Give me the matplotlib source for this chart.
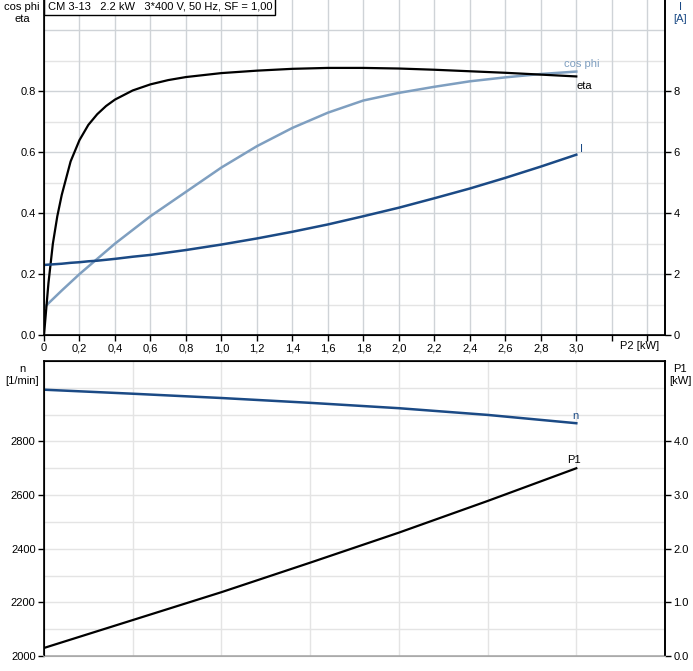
import numpy as np
import matplotlib
matplotlib.use("Agg")
import matplotlib.pyplot as plt

plt.rcParams["font.family"] = ["Liberation Sans", "DejaVu Sans"]

# P2 [kW] sample points
p2 = [0.0, 0.025, 0.05, 0.075, 0.1, 0.15, 0.2, 0.25, 0.3, 0.35, 0.4, 0.5, 0.6,
      0.7, 0.8, 1.0, 1.2, 1.4, 1.6, 1.8, 2.0, 2.2, 2.4, 2.6, 2.8, 3.0]
eta = [0.0, 0.17, 0.30, 0.39, 0.46, 0.57, 0.64, 0.69, 0.725, 0.752, 0.773, 0.803,
       0.823, 0.837, 0.847, 0.860, 0.868, 0.874, 0.877, 0.877, 0.875, 0.871,
       0.866, 0.861, 0.855, 0.849]
cosphi = [0.09, 0.104, 0.118, 0.132, 0.146, 0.173, 0.20, 0.225, 0.25, 0.275, 0.30,
          0.345, 0.39, 0.43, 0.47, 0.55, 0.62, 0.68, 0.73, 0.77, 0.795, 0.815,
          0.833, 0.846, 0.857, 0.865]
current = [2.30, 2.31, 2.32, 2.33, 2.34, 2.37, 2.39, 2.42, 2.44, 2.47, 2.50, 2.57,
           2.63, 2.71, 2.79, 2.97, 3.17, 3.39, 3.63, 3.90, 4.18, 4.49, 4.81, 5.16,
           5.53, 5.92]

p2b = [0.0, 0.5, 1.0, 1.5, 2.0, 2.5, 3.0]
speed = [2993, 2978, 2962, 2944, 2924, 2899, 2868]
p1 = [0.15, 0.67, 1.19, 1.74, 2.30, 2.89, 3.50]

title = "CM 3-13   2.2 kW   3*400 V, 50 Hz, SF = 1,00"

c_eta = "#000000"
c_cos = "#7f9fc0"
c_i = "#1b4a85"
c_n = "#1b4a85"
c_p1 = "#000000"
grid_major = "#cfd3d7"
grid_minor = "#e4e4e4"
fs = 8

fig = plt.figure(figsize=(6.93, 6.71), dpi=100)
W, H = 693.0, 671.0

# ---------- top chart ----------
ax1 = fig.add_axes([44 / W, 1 - 335 / H, 621 / W, 335 / H])
ax1.set_xlim(0, 3.5)
ax1.set_ylim(0, 1.1)
xt = np.arange(0, 3.41, 0.2)
ax1.set_xticks(xt)
ax1.set_xticklabels([("0" if v == 0 else f"{v:.1f}".replace(".", ",")) if v <= 3.01 else ""
                     for v in xt], fontsize=fs)
ax1.set_yticks([0, 0.2, 0.4, 0.6, 0.8])
ax1.set_yticklabels(["0.0", "0.2", "0.4", "0.6", "0.8"], fontsize=fs)
for v in np.arange(0.1, 1.1, 0.1):
    ax1.axhline(v, color=grid_minor if round(v * 10) % 2 else grid_major, lw=1.0, zorder=0)
for v in np.arange(0.2, 3.41, 0.2):
    ax1.axvline(v, color=grid_major, lw=1.0, zorder=0)
ax1.plot(p2, cosphi, color=c_cos, lw=1.8)
ax1.plot(p2, eta, color=c_eta, lw=1.6)
ax1.tick_params(length=4, width=1, pad=2)
ax1.spines["top"].set_visible(False)
for s in ["left", "right", "bottom"]:
    ax1.spines[s].set_linewidth(1.2)

ax1r = ax1.twinx()
ax1r.set_ylim(0, 11)
ax1r.set_yticks([0, 2, 4, 6, 8])
ax1r.set_yticklabels(["0", "2", "4", "6", "8"], fontsize=fs)
ax1r.plot(p2, current, color=c_i, lw=1.8)
ax1r.tick_params(length=4, width=1, pad=2)
ax1r.spines["top"].set_visible(False)
ax1r.spines["right"].set_linewidth(1.2)

ax1.text(3.0, 0.817, "eta", fontsize=fs, color=c_eta, ha="left", va="center")
ax1.text(2.93, 0.875, "cos phi", fontsize=fs, color=c_cos, ha="left", va="bottom")
ax1r.text(3.02, 5.95, "I", fontsize=fs, color=c_i, ha="left", va="bottom")

ax1.text(0.02, 1.094, title, fontsize=fs, ha="left", va="top",
         bbox=dict(boxstyle="square,pad=0.3", fc="white", ec="black", lw=1.0))

fig.text(22 / W, 1 - 2 / H, "cos phi\neta", fontsize=fs, ha="center", va="top", linespacing=1.2)
fig.text(680 / W, 1 - 2 / H, "I\n[A]", fontsize=fs, ha="center", va="top", linespacing=1.2,
         color="#1b4a85")
fig.text(640 / W, 1 - 346 / H, "P2 [kW]", fontsize=fs, ha="center", va="center")

# ---------- bottom chart ----------
ax2 = fig.add_axes([44 / W, 1 - 656 / H, 621 / W, 295 / H])
ax2.set_xlim(0, 3.5)
ax2.set_ylim(2000, 3100)
ax2.set_xticks([])
ax2.set_yticks([2000, 2200, 2400, 2600, 2800])
ax2.set_yticklabels(["2000", "2200", "2400", "2600", "2800"], fontsize=fs)
for v in range(2100, 3100, 100):
    ax2.axhline(v, color=grid_minor, lw=1.0, zorder=0)
for v in np.arange(0.5, 3.51, 0.5):
    ax2.axvline(v, color=grid_minor, lw=1.0, zorder=0)
ax2.plot(p2b, speed, color=c_n, lw=1.8)
ax2.tick_params(length=4, width=1, pad=2)
ax2.spines["bottom"].set_color("#aaaaaa")
for s in ["left", "right", "top", "bottom"]:
    ax2.spines[s].set_linewidth(1.2)

ax2r = ax2.twinx()
ax2r.set_ylim(0, 5.5)
ax2r.set_yticks([0, 1, 2, 3, 4])
ax2r.set_yticklabels(["0.0", "1.0", "2.0", "3.0", "4.0"], fontsize=fs)
ax2r.plot(p2b, p1, color=c_p1, lw=1.6)
ax2r.tick_params(length=4, width=1, pad=2)
ax2r.spines["bottom"].set_color("#aaaaaa")
ax2r.spines["right"].set_linewidth(1.2)

ax2.text(2.98, 2878, "n", fontsize=fs, color="#1b4a85", ha="left", va="bottom")
ax2r.text(2.95, 3.57, "P1", fontsize=fs, color="black", ha="left", va="bottom")

fig.text(22 / W, 1 - 364 / H, "n\n[1/min]", fontsize=fs, ha="center", va="top", linespacing=1.2)
fig.text(680 / W, 1 - 364 / H, "P1\n[kW]", fontsize=fs, ha="center", va="top", linespacing=1.2)

fig.savefig("out.png", dpi=100)
